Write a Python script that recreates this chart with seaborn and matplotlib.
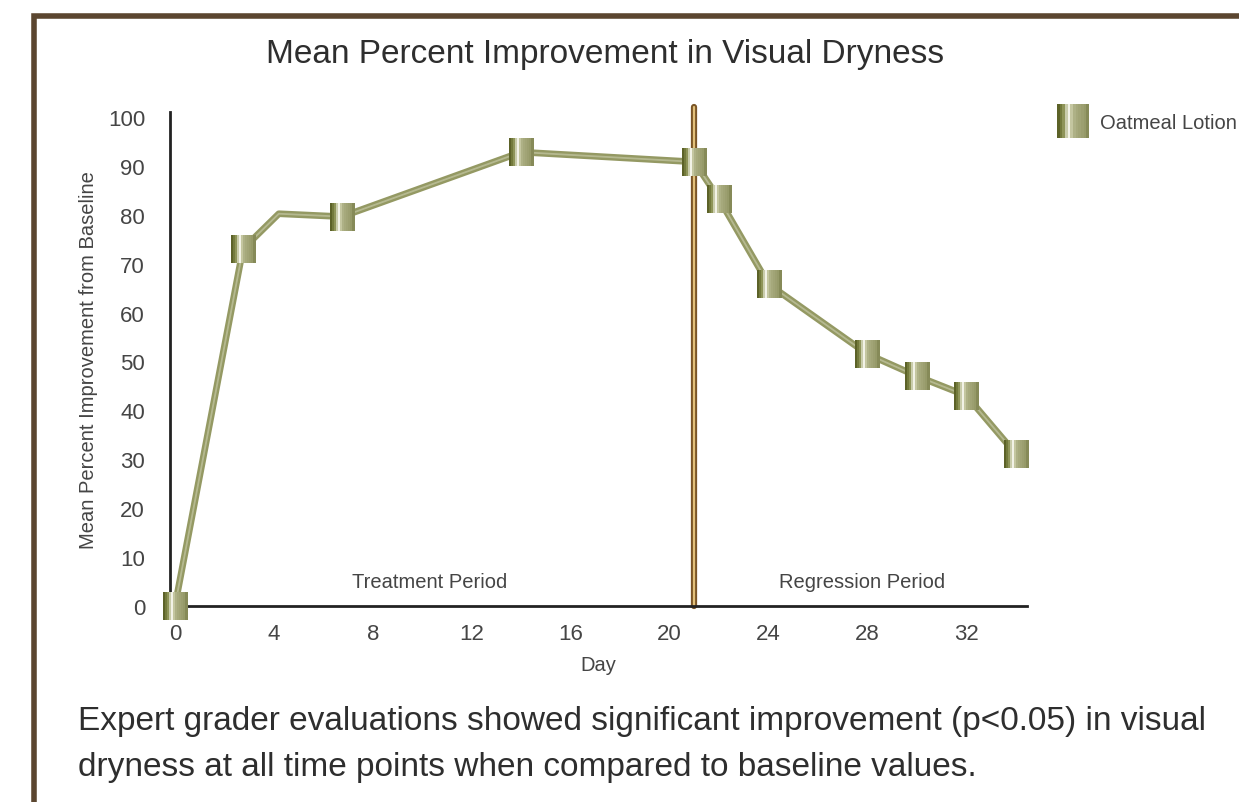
import numpy as np
import pandas as pd
import matplotlib
matplotlib.use("Agg")
import matplotlib.pyplot as plt
import seaborn as sns
from matplotlib.path import Path
from matplotlib.lines import Line2D
from matplotlib.patches import Rectangle
from matplotlib.legend_handler import HandlerTuple

# values
days = [0, 2.75, 4.2, 6.75, 14, 21, 22, 24, 28, 30, 32, 34]
improvement = [0, 73.0, 80.2, 79.6, 92.8, 90.8, 83.2, 65.8, 51.5, 47.0, 43.0, 31.1]
has_marker = [True, True, False, True, True, True, True, True, True, True, True, True]
x_ticks = [0, 4, 8, 12, 16, 20, 24, 28, 32]
y_ticks = [0, 10, 20, 30, 40, 50, 60, 70, 80, 90, 100]
period_split = 21
series_name = "Oatmeal Lotion"

df = pd.DataFrame({"Day": days, "Improvement": improvement, "marker": has_marker})

sns.set_theme(style="white")
plt.rcParams["font.family"] = ["Liberation Sans", "DejaVu Sans"]
text_col = "#2e2e2e"
label_col = "#454545"

fig = plt.figure(figsize=(12.39, 8.03), dpi=100)
ax = fig.add_axes([170 / 1239, 196 / 803, 857 / 1239, 494 / 803])

# metallic square marker built from overlapping vertical stripes
stripe_cols = ["#5c6228", "#737a3c", "#8e9458", "#c9ccab", "#f2f2e6", "#c4c6a0",
               "#aeb186", "#a6a97c", "#a1a476", "#9c9f70", "#969a69", "#868a58"]
n = len(stripe_cols)


def stripe_marker(i, half_w=0.9):
    x0 = -half_w + 2 * half_w * i / n
    x1 = min(-half_w + 2 * half_w * (i + 1.4) / n, half_w)
    # the trailing moveto points keep the full extent, so every stripe is scaled alike
    verts = [(x0, -1), (x1, -1), (x1, 1), (x0, 1), (x0, -1), (-half_w, -1), (half_w, 1)]
    codes = [Path.MOVETO, Path.LINETO, Path.LINETO, Path.LINETO, Path.CLOSEPOLY,
             Path.MOVETO, Path.MOVETO]
    return Path(verts, codes)


# split between treatment and regression period
ax.axvline(period_split, ymin=0, ymax=1.01, color="#7a5526", lw=4.5, clip_on=False, zorder=2)
ax.axvline(period_split, ymin=0, ymax=1.01, color="#e2c07a", lw=1.6, clip_on=False, zorder=2)

sns.lineplot(data=df, x="Day", y="Improvement", sort=False, ax=ax, color="#949963",
             lw=4.8, estimator=None, zorder=3, clip_on=False)
sns.lineplot(data=df, x="Day", y="Improvement", sort=False, ax=ax, color="#d2d4b6",
             lw=1.3, estimator=None, zorder=3, alpha=0.55, clip_on=False)

mk = df[df["marker"]]
handles = []
for i, c in enumerate(stripe_cols):
    ax.plot(mk["Day"], mk["Improvement"], ls="none", marker=stripe_marker(i), ms=20,
            mfc=c, mec="none", mew=0, zorder=4, clip_on=False)
    handles.append(Line2D([], [], ls="none", marker=stripe_marker(i, 0.95), ms=24.5,
                          mfc=c, mec="none", mew=0))

ax.set_xlim(-0.2, 34.45)
ax.set_ylim(0, 101)
ax.set_xticks(x_ticks)
ax.set_yticks(y_ticks)
ax.tick_params(axis="both", length=0, labelsize=16, colors=label_col)
ax.tick_params(axis="x", pad=12)
ax.tick_params(axis="y", pad=18)

for s in ["top", "right"]:
    ax.spines[s].set_visible(False)
for s in ["left", "bottom"]:
    ax.spines[s].set_color("#222222")
    ax.spines[s].set_linewidth(2.0)

ax.set_xlabel("Day", fontsize=14.5, color=label_col, labelpad=8)
ax.set_ylabel("Mean Percent Improvement from Baseline", fontsize=14.5, color=label_col, labelpad=7)

ax.text(10.3, 5, "Treatment Period", ha="center", va="center", fontsize=14.5, color=label_col)
ax.text(27.8, 5, "Regression Period", ha="center", va="center", fontsize=14.5, color=label_col)

fig.text(605 / 1239, 1 - 55 / 803, "Mean Percent Improvement in Visual Dryness",
         ha="center", va="center", fontsize=24, color=text_col)

leg = fig.legend([tuple(handles)], [series_name], handler_map={tuple: HandlerTuple(ndivide=1, pad=0)},
                 loc="center left", bbox_to_anchor=(1046 / 1239, 1 - 124 / 803), frameon=False,
                 fontsize=14.5, handlelength=1.9, handletextpad=0.4, borderaxespad=0, numpoints=1)
for t in leg.get_texts():
    t.set_color(label_col)

fig.text(78 / 1239, 1 - 722 / 803, "Expert grader evaluations showed significant improvement (p<0.05) in visual",
         ha="left", va="center", fontsize=24, color=text_col)
fig.text(78 / 1239, 1 - 768 / 803, "dryness at all time points when compared to baseline values.",
         ha="left", va="center", fontsize=24, color=text_col)

# brown frame that runs off the right and bottom edges
fig.patches.append(Rectangle((34 / 1239, -0.05), 1.2, 1 - 17 / 803 + 0.05, transform=fig.transFigure,
                             fill=False, ec="#5b4630", lw=4, zorder=0))

fig.savefig("out.png", dpi=100)
